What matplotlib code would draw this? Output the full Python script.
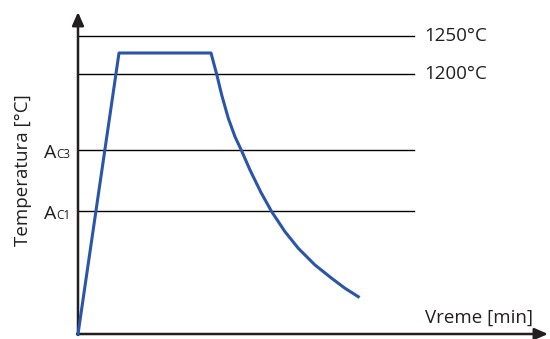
import matplotlib
matplotlib.use('Agg')
import matplotlib.pyplot as plt

plt.rcParams['font.family'] = ['Open Sans', 'DejaVu Sans']

# heat-treatment cycle (arbitrary time / temperature units)
time = [0, 41, 133, 138.7, 143.7, 150.3, 157, 163.7, 172, 183, 193.7, 207,
        220.3, 237, 253.7, 267, 280.3]
temp = [0, 281, 281, 259.7, 239, 215.7, 197.3, 183, 164, 141.5, 122.3, 102.3,
        85.7, 69, 55.7, 45.7, 37.3]

# reference temperature levels
levels = [298, 260, 184, 123]
level_labels = ['1250°C', '1200°C', None, None]
ac_labels = [None, None, '3', '1']

ink = '#231f20'

fig = plt.figure(figsize=(5.5, 3.39), dpi=100)
ax = fig.add_axes([78 / 550, 5 / 339, 470 / 550, 322 / 339])
ax.set_xlim(0, 470)
ax.set_ylim(0, 322)
for s in ax.spines.values():
    s.set_visible(False)
ax.set_xticks([])
ax.set_yticks([])

# horizontal reference lines
for lv, lab, ac in zip(levels, level_labels, ac_labels):
    ax.plot([0, 336], [lv, lv], color='black', lw=1.0, zorder=2)
    if lab:
        ax.text(346, lv, lab, fontsize=13.5, color=ink, ha='left', va='center')
    if ac:
        ax.annotate('C' + ac, xy=(0, lv), xytext=(-5.5, -5.5), textcoords='offset points',
                    fontsize=8.5, color=ink, ha='right', va='baseline')
        ax.annotate('A', xy=(0, lv), xytext=(-15.5, -5.5), textcoords='offset points',
                    fontsize=14, color=ink, ha='right', va='baseline')

# axes with arrows
arrow = dict(arrowstyle='-|>,head_width=0.35,head_length=0.8', color=ink, lw=1.8,
             shrinkA=0, shrinkB=0)
ax.annotate('', xy=(470, 0), xytext=(-1, 0), arrowprops=arrow, annotation_clip=False)
ax.annotate('', xy=(0, 322), xytext=(0, -1), arrowprops=arrow, annotation_clip=False)

ax.plot(time, temp, color='#2a55a8', lw=2.2, clip_on=False, zorder=3,
        solid_joinstyle='round')

ax.text(455, 11, 'Vreme [min]', fontsize=13.5, color=ink, ha='right', va='baseline')
fig.text(0.042, 0.4985, 'Temperatura [°C]', fontsize=13.5, color=ink, rotation=90,
         ha='center', va='center')

fig.savefig('out.png', dpi=100)
